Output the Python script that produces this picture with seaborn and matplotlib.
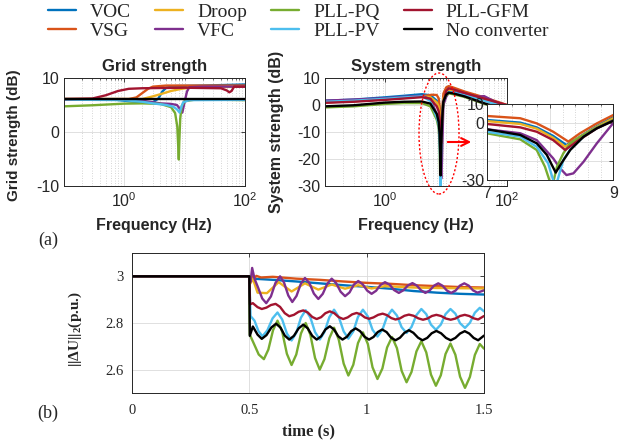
import numpy as np
import matplotlib
matplotlib.use("Agg")
import matplotlib.pyplot as plt
import seaborn as sns
from matplotlib.patches import Ellipse, FancyArrowPatch
from matplotlib.ticker import FixedLocator, NullFormatter, LogLocator, FixedFormatter, MultipleLocator

# ---------------- data ----------------
SERIES = ["VOC", "VSG", "Droop", "VFC", "PLL-PQ", "PLL-PV", "PLL-GFM", "No converter"]
COLORS = ["#0072BD", "#D95319", "#EDB120", "#7E2F8E", "#77AC30", "#4DBEEE", "#A2142F", "#000000"]

# Grid strength (dB) vs frequency (Hz)
GS_VOC_F = [0.1, 0.7, 1.2, 2, 3, 3.7, 4.3, 5, 7, 20, 100]
GS_VOC_DB = [6.1, 6.0, 5.7, 5.5, 5.5, 6.2, 7.5, 8.2, 8.5, 8.6, 8.8]
GS_VSG_F = [0.1, 1.2, 1.6, 2.0, 2.5, 3, 5, 100]
GS_VSG_DB = [6.1, 6.1, 6.4, 7.2, 8.0, 8.4, 8.6, 8.6]
GS_DROOP_F = [0.1, 2, 3, 4, 6, 9, 12, 100]
GS_DROOP_DB = [6.1, 6.1, 6.6, 7.0, 7.6, 8.0, 8.2, 8.4]
GS_VFC_F = [0.1, 1, 2, 3, 4, 6, 7.5, 8.5, 9.2, 10, 11, 12, 20, 100]
GS_VFC_DB = [6.0, 6.0, 5.8, 5.5, 5.3, 5.2, 5.0, 4.2, 3.6, 5.5, 7.5, 8.3, 8.4, 8.4]
GS_PQ_F = [0.1, 0.3, 1, 2, 4, 6, 7, 7.6, 7.9, 8.05, 8.2, 8.5, 9, 10, 15, 30, 100]
GS_PQ_DB = [4.75, 4.95, 5.25, 5.3, 5.2, 4.6, 3.5, 1.0, -3.0, -5.1, -2.0, 2.5, 4.8, 5.7, 6.0, 6.0, 5.9]
GS_PV_F = [0.1, 1, 2, 3, 5, 6.5, 7.5, 8.3, 8.8, 9.5, 12, 100]
GS_PV_DB = [6.0, 5.9, 5.6, 5.3, 5.0, 4.7, 4.2, 3.6, 4.5, 5.5, 5.9, 5.95]
GS_GFM_F = [0.1, 0.3, 0.5, 0.8, 1.2, 2, 10, 40, 50, 55, 60, 66, 100]
GS_GFM_DB = [6.1, 6.2, 6.8, 7.6, 8.0, 8.1, 8.2, 8.1, 7.7, 7.35, 7.6, 8.4, 8.4]
GS_NONE_F = [0.1, 1, 10, 100]
GS_NONE_DB = [6.1, 6.1, 6.1, 6.1]

# System strength (dB) vs frequency (Hz)
SS_VOC_F = [0.1, 0.3, 1, 2, 4, 5.5, 7, 7.53, 7.79, 8.05, 8.26, 8.47, 8.74, 9, 10, 11, 13, 20, 40, 100]
SS_VOC_DB = [1.6, 2.0, 2.85, 3.4, 4.0, 3.6, 1.6, 0.2, -2.3, -6.8, -11.6, -7.2, -1.6, 3.0, 4.8, 5.6, 5.2, 4.0, 2.0, -1.0]
SS_VSG_F = [0.1, 0.3, 1, 2, 4, 5.8, 7, 7.53, 7.79, 8.05, 8.29, 8.47, 8.74, 9, 10, 11, 13, 20, 40, 100]
SS_VSG_DB = [1.0, 1.4, 2.2, 2.8, 3.2, 3.8, 3.7, 2.5, -0.2, -4.6, -9.8, -5.5, -0.2, 4.2, 6.5, 7.0, 6.5, 5.0, 3.0, 0.0]
SS_DROOP_F = [0.1, 0.3, 1, 2, 4, 5.5, 7, 7.53, 7.79, 8.05, 8.24, 8.45, 8.74, 9, 10, 11, 13, 20, 40, 100]
SS_DROOP_DB = [1.0, 1.4, 2.1, 2.6, 3.2, 2.9, 1.0, -0.5, -3.0, -7.8, -12.5, -7.8, -2.0, 2.5, 4.8, 5.5, 5.2, 4.0, 2.2, -0.5]
SS_VFC_F = [0.1, 0.3, 1, 2, 4, 5.5, 7, 7.53, 7.79, 8.05, 8.16, 8.26, 8.37, 8.53, 8.74, 9, 10, 11, 13, 20, 30, 42, 60, 100]
SS_VFC_DB = [1.6, 2.0, 2.5, 3.0, 3.4, 2.2, -3.3, -5.4, -9.0, -18.6, -23.9, -27.4, -26.5, -20.4, -10.7, 0.0, 3.0, 4.5, 4.8, 4.0, 3.0, 3.3, 1.5, -1.0]
SS_PQ_F = [0.1, 0.3, 1, 2, 4, 5.5, 7, 7.53, 7.79, 7.92, 7.99, 8.02, 8.06, 8.11, 8.21, 8.32, 8.53, 8.74, 9, 10, 11, 13, 20, 40, 100]
SS_PQ_DB = [-0.9, -0.5, 0.4, 0.7, 0.7, -0.5, -5.4, -8.6, -14.2, -23.0, -30.0, -34.0, -30.0, -23.0, -16.0, -10.7, -6.3, -2.3, 1.6, 3.6, 4.3, 4.0, 3.0, 0.6, -2.0]
SS_PV_F = [0.1, 0.3, 1, 2, 4, 5.5, 7, 7.53, 7.79, 7.97, 8.05, 8.08, 8.12, 8.21, 8.32, 8.53, 8.74, 9, 10, 11, 13, 20, 40, 100]
SS_PV_DB = [1.2, 1.6, 2.3, 2.8, 3.2, 1.5, -4.6, -7.2, -12.5, -21.2, -30.0, -33.0, -30.0, -19.5, -13.9, -7.2, -2.8, 1.2, 4.0, 4.8, 4.6, 3.6, 1.8, -1.0]
SS_GFM_F = [0.1, 0.3, 1, 2, 4, 5.5, 7, 7.53, 7.79, 8.05, 8.24, 8.42, 8.74, 9, 10, 11, 13, 20, 40, 100]
SS_GFM_DB = [0.8, 1.2, 1.9, 2.4, 2.9, 2.3, -0.5, -2.3, -4.6, -9.0, -14.2, -9.8, -2.8, 1.2, 5.2, 6.2, 5.8, 4.5, 2.5, 0.0]
SS_NONE_F = [0.1, 0.3, 1, 2, 4, 5.5, 7, 7.53, 7.79, 7.95, 8.09, 8.18, 8.32, 8.53, 8.74, 9, 10, 11, 13, 20, 40, 100]
SS_NONE_DB = [-0.5, -0.1, 0.9, 1.2, 1.3, 0.5, -3.3, -6.3, -10.7, -16.8, -26.1, -21.2, -14.2, -7.2, -2.8, 1.2, 3.8, 4.6, 4.3, 3.2, 0.8, -2.0]

# ||dU||_2 (p.u.) vs time (s)
T_VOC = [0, 0.5, 0.51, 0.55, 0.6, 0.7, 0.8, 0.9, 1.0, 1.1, 1.2, 1.3, 1.4, 1.5]
U_VOC = [3.0, 3.0, 2.99, 2.988, 2.985, 2.978, 2.970, 2.962, 2.955, 2.947, 2.937, 2.930, 2.925, 2.922]
T_VSG = [0, 0.5, 0.505, 0.512, 0.52, 0.53, 0.55, 0.6, 0.7, 0.8, 0.9, 1.0, 1.1, 1.2, 1.3, 1.4, 1.5]
U_VSG = [3.0, 3.0, 2.985, 3.0, 2.99, 3.002, 2.995, 2.998, 2.99, 2.985, 2.978, 2.972, 2.968, 2.962, 2.958, 2.954, 2.952]
T_DROOP = [0, 0.5, 0.505, 0.515, 0.535, 0.575, 0.625, 0.68, 0.737, 0.794, 0.851, 0.908, 0.964, 1.021, 1.078, 1.2, 1.3, 1.4, 1.5]
U_DROOP = [3.0, 3.0, 2.97, 2.99, 2.93, 2.928, 2.975, 2.935, 2.970, 2.943, 2.965, 2.947, 2.962, 2.948, 2.958, 2.952, 2.950, 2.949, 2.948]
T_VFC = [0, 0.5, 0.505, 0.512, 0.522, 0.538, 0.555, 0.572, 0.592, 0.611, 0.631, 0.648, 0.666, 0.683, 0.701,
         0.719, 0.737, 0.756, 0.775, 0.794, 0.813, 0.832, 0.851, 0.870, 0.889, 0.908, 0.927, 0.945, 0.964,
         0.983, 1.002, 1.021, 1.040, 1.059, 1.078, 1.098, 1.117, 1.137, 1.156, 1.176, 1.195, 1.213, 1.232,
         1.250, 1.268, 1.287, 1.305, 1.323, 1.342, 1.360, 1.379, 1.397, 1.416, 1.435, 1.453, 1.472, 1.5]
U_VFC = [3.0, 3.0, 2.975, 3.036, 2.99, 2.95, 2.905, 2.885, 2.914, 2.971, 3.000, 2.973, 2.918, 2.890, 2.916,
         2.967, 2.993, 2.971, 2.926, 2.903, 2.925, 2.968, 2.990, 2.971, 2.934, 2.915, 2.931, 2.964, 2.980,
         2.966, 2.939, 2.925, 2.938, 2.963, 2.975, 2.964, 2.941, 2.929, 2.940, 2.961, 2.971, 2.961, 2.940,
         2.929, 2.939, 2.960, 2.970, 2.960, 2.939, 2.929, 2.939, 2.960, 2.970, 2.960, 2.940, 2.930, 2.940]
T_PQ = [0, 0.5, 0.502, 0.52, 0.54, 0.562, 0.581, 0.601, 0.620, 0.640, 0.660, 0.680, 0.700, 0.720, 0.740,
        0.760, 0.780, 0.800, 0.820, 0.841, 0.861, 0.881, 0.902, 0.922, 0.943, 0.963, 0.984, 1.005, 1.025,
        1.046, 1.067, 1.087, 1.108, 1.129, 1.149, 1.170, 1.191, 1.212, 1.233, 1.254, 1.274, 1.295, 1.316,
        1.336, 1.357, 1.378, 1.398, 1.419, 1.440, 1.461, 1.482, 1.5]
U_PQ = [3.0, 3.0, 2.75, 2.71, 2.665, 2.645, 2.686, 2.769, 2.810, 2.763, 2.668, 2.620, 2.665, 2.755, 2.800,
        2.750, 2.650, 2.600, 2.645, 2.735, 2.780, 2.729, 2.626, 2.575, 2.621, 2.714, 2.760, 2.710, 2.610,
        2.560, 2.605, 2.695, 2.740, 2.692, 2.595, 2.546, 2.590, 2.678, 2.722, 2.674, 2.579, 2.531, 2.576,
        2.667, 2.712, 2.664, 2.570, 2.522, 2.569, 2.663, 2.710, 2.69]
T_PV = [0, 0.5, 0.505, 0.522, 0.539, 0.556, 0.577, 0.599, 0.620, 0.640, 0.660, 0.680, 0.700, 0.720, 0.740,
        0.760, 0.780, 0.800, 0.820, 0.841, 0.861, 0.881, 0.902, 0.922, 0.943, 0.963, 0.984, 1.005, 1.025,
        1.046, 1.067, 1.087, 1.108, 1.129, 1.149, 1.170, 1.191, 1.212, 1.233, 1.254, 1.274, 1.295, 1.316,
        1.336, 1.357, 1.378, 1.398, 1.419, 1.440, 1.461, 1.482, 1.5]
U_PV = [3.0, 3.0, 2.83, 2.81, 2.765, 2.743, 2.769, 2.820, 2.845, 2.815, 2.755, 2.725, 2.758, 2.823, 2.855,
        2.824, 2.761, 2.729, 2.761, 2.825, 2.857, 2.826, 2.764, 2.733, 2.764, 2.826, 2.857, 2.828, 2.771,
        2.742, 2.771, 2.828, 2.857, 2.832, 2.782, 2.757, 2.783, 2.834, 2.860, 2.838, 2.793, 2.771, 2.793,
        2.838, 2.860, 2.840, 2.799, 2.779, 2.801, 2.844, 2.865, 2.85]
T_GFM = [0, 0.5, 0.503, 0.515, 0.535, 0.553, 0.573, 0.592, 0.612, 0.631, 0.651, 0.670, 0.690, 0.710, 0.730,
         0.749, 0.768, 0.787, 0.806, 0.824, 0.843, 0.862, 0.881, 0.900, 0.919, 0.938, 0.957, 0.975, 0.992,
         1.010, 1.029, 1.049, 1.068, 1.086, 1.105, 1.123, 1.142, 1.161, 1.180, 1.200, 1.220, 1.240, 1.259,
         1.278, 1.297, 1.317, 1.338, 1.358, 1.378, 1.398, 1.418, 1.437, 1.456, 1.475, 1.5]
U_GFM = [3.0, 3.0, 2.880, 2.885, 2.868, 2.860, 2.866, 2.877, 2.882, 2.869, 2.842, 2.829, 2.835, 2.848, 2.854,
         2.845, 2.826, 2.817, 2.825, 2.842, 2.850, 2.842, 2.825, 2.817, 2.824, 2.837, 2.843, 2.837, 2.824,
         2.818, 2.824, 2.835, 2.840, 2.834, 2.821, 2.815, 2.820, 2.831, 2.836, 2.831, 2.820, 2.814, 2.819,
         2.830, 2.835, 2.830, 2.819, 2.814, 2.819, 2.830, 2.835, 2.830, 2.820, 2.815, 2.83]
T_NONE = [0, 0.5, 0.502, 0.515, 0.535, 0.553, 0.573, 0.594, 0.614, 0.633, 0.651, 0.670, 0.690, 0.710, 0.730,
          0.749, 0.768, 0.787, 0.806, 0.824, 0.843, 0.861, 0.879, 0.897, 0.916, 0.934, 0.953, 0.972, 0.991,
          1.010, 1.029, 1.047, 1.066, 1.085, 1.104, 1.123, 1.142, 1.161, 1.180, 1.199, 1.219, 1.238, 1.258,
          1.277, 1.297, 1.317, 1.338, 1.358, 1.378, 1.398, 1.418, 1.437, 1.456, 1.475, 1.5]
U_NONE = [3.0, 3.0, 2.745, 2.785, 2.75, 2.732, 2.748, 2.781, 2.797, 2.780, 2.746, 2.729, 2.745, 2.777, 2.793,
          2.777, 2.745, 2.729, 2.743, 2.772, 2.786, 2.772, 2.743, 2.729, 2.741, 2.765, 2.777, 2.765, 2.741,
          2.729, 2.740, 2.761, 2.772, 2.761, 2.737, 2.726, 2.737, 2.758, 2.769, 2.758, 2.737, 2.726, 2.736,
          2.756, 2.766, 2.756, 2.736, 2.726, 2.736, 2.755, 2.765, 2.755, 2.736, 2.726, 2.746]

GS = [(GS_VOC_F, GS_VOC_DB), (GS_VSG_F, GS_VSG_DB), (GS_DROOP_F, GS_DROOP_DB), (GS_VFC_F, GS_VFC_DB),
      (GS_PQ_F, GS_PQ_DB), (GS_PV_F, GS_PV_DB), (GS_GFM_F, GS_GFM_DB), (GS_NONE_F, GS_NONE_DB)]
SS = [(SS_VOC_F, SS_VOC_DB), (SS_VSG_F, SS_VSG_DB), (SS_DROOP_F, SS_DROOP_DB), (SS_VFC_F, SS_VFC_DB),
      (SS_PQ_F, SS_PQ_DB), (SS_PV_F, SS_PV_DB), (SS_GFM_F, SS_GFM_DB), (SS_NONE_F, SS_NONE_DB)]
TS = [(T_VOC, U_VOC), (T_VSG, U_VSG), (T_DROOP, U_DROOP), (T_VFC, U_VFC),
      (T_PQ, U_PQ), (T_PV, U_PV), (T_GFM, U_GFM), (T_NONE, U_NONE)]

# ---------------- style ----------------
sns.set_style("white")
plt.rcParams.update({
    "font.family": ["Liberation Sans", "DejaVu Sans"],
    "mathtext.fontset": "custom",
    "mathtext.rm": "Liberation Serif",
    "mathtext.bf": "Liberation Serif:bold",
    "axes.edgecolor": "#262626",
    "axes.linewidth": 0.7,
    "xtick.color": "#262626",
    "ytick.color": "#262626",
})

W, H = 629, 445
fig = plt.figure(figsize=(W / 100, H / 100), dpi=100)


def rect(x0, y0, x1, y1):
    return [x0 / W, 1 - y1 / H, (x1 - x0) / W, (y1 - y0) / H]


ax1 = fig.add_axes(rect(63.5, 78, 245, 186))
ax2 = fig.add_axes(rect(324.5, 78, 507, 186))
axi = fig.add_axes(rect(486.7, 104, 613.3, 180))
ax3 = fig.add_axes(rect(132, 253, 484, 393))
axi.set_zorder(5)

LW = 1.7
SANS = "Liberation Sans"
SERIF = "Liberation Serif"


def draw(ax, x, y, c):
    sns.lineplot(x=x, y=y, ax=ax, color=c, lw=LW, estimator=None, sort=False, legend=False,
                 solid_joinstyle="round", solid_capstyle="round")


def style_common(ax):
    for s in ax.spines.values():
        s.set_visible(True)
        s.set_color("#262626")
        s.set_linewidth(0.7)
    ax.set_axisbelow(True)
    ax.tick_params(which="both", direction="in", top=True, right=True)
    ax.tick_params(which="major", length=3, width=0.6)
    ax.tick_params(which="minor", length=1.6, width=0.5)


def style_freq(ax, ylim, yticks):
    ax.set_xscale("log")
    ax.set_xlim(0.1, 100)
    ax.set_ylim(*ylim)
    ax.xaxis.set_major_locator(FixedLocator([1, 100]))
    ax.xaxis.set_minor_locator(LogLocator(base=10, subs=np.arange(1, 10) * 1.0, numticks=20))
    ax.xaxis.set_minor_formatter(NullFormatter())
    ax.yaxis.set_major_locator(FixedLocator(yticks))
    ax.yaxis.set_major_formatter(FixedFormatter([str(v) for v in yticks]))
    style_common(ax)
    ax.grid(True, which="major", color="#dadada", lw=0.6)
    ax.xaxis.grid(True, which="minor", color="#c8c8c8", ls=(0, (1, 2)), lw=0.6)
    ax.tick_params(which="major", labelsize=11.5, pad=3)
    ax.tick_params(axis="x", which="major", pad=4)
    for lab in ax.get_xticklabels() + ax.get_yticklabels():
        lab.set_family(SANS)
    ax.set_xlabel("Frequency (Hz)", fontsize=11.5, fontweight="bold", family=SANS)
    ax.xaxis.set_label_coords(0.5, -0.30)


# Top-left: grid strength
for (f, v), c in zip(GS, COLORS):
    draw(ax1, f, v, c)
style_freq(ax1, (-10, 10), [-10, 0, 10])
ax1.set_title("Grid strength", fontsize=12, fontweight="bold", family=SANS, pad=5)
ax1.set_ylabel("Grid strength (dB)", fontsize=11, fontweight="bold", family=SANS)
ax1.yaxis.set_label_coords(-0.235, 0.47)

# Top-right: system strength
for (f, v), c in zip(SS, COLORS):
    draw(ax2, f, v, c)
style_freq(ax2, (-30, 10), [-30, -20, -10, 0, 10])
ax2.set_title("System strength", fontsize=12, fontweight="bold", family=SANS, pad=5)
ax2.set_ylabel("System strength (dB)", fontsize=11.5, fontweight="bold", family=SANS)
ax2.yaxis.set_label_coords(-0.22, 0.5)

# Inset zoom 7-9 Hz
for (f, v), c in zip(SS, COLORS):
    draw(axi, f, v, c)
axi.set_facecolor("white")
axi.set_xlim(7, 9)
axi.set_ylim(-30, 10)
axi.xaxis.set_major_locator(FixedLocator([7, 8, 9]))
axi.xaxis.set_major_formatter(FixedFormatter(["7", "", "9"]))
axi.xaxis.set_minor_locator(MultipleLocator(0.2))
axi.yaxis.set_major_locator(FixedLocator([-30, -20, -10, 0, 10]))
axi.yaxis.set_major_formatter(FixedFormatter(["-30", "", "", "0", "10"]))
style_common(axi)
axi.grid(True, which="major", color="#dadada", lw=0.6)
axi.xaxis.grid(True, which="minor", color="#c8c8c8", ls=(0, (1, 2)), lw=0.6)
axi.tick_params(which="major", labelsize=11.5, pad=1.5)
axi.tick_params(axis="x", which="major", pad=4)
for lab in axi.get_xticklabels() + axi.get_yticklabels():
    lab.set_family(SANS)
axi.set_xlabel("")
axi.set_ylabel("")

# Bottom: time series
for (t, u), c in zip(TS, COLORS):
    draw(ax3, t, u, c)
ax3.set_xlim(0, 1.5)
ax3.set_ylim(2.5, 3.1)
ax3.xaxis.set_major_locator(FixedLocator([0, 0.5, 1, 1.5]))
ax3.xaxis.set_major_formatter(FixedFormatter(["0", "0.5", "1", "1.5"]))
ax3.yaxis.set_major_locator(FixedLocator([2.6, 2.8, 3.0]))
ax3.yaxis.set_major_formatter(FixedFormatter(["2.6", "2.8", "3"]))
style_common(ax3)
ax3.grid(True, which="major", color="#dadada", lw=0.6)
ax3.tick_params(which="major", labelsize=10.5)
ax3.tick_params(axis="x", pad=8)
ax3.tick_params(axis="y", pad=6)
for lab in ax3.get_xticklabels() + ax3.get_yticklabels():
    lab.set_family(SERIF)
ax3.set_xlabel("time (s)", fontsize=12, fontweight="bold", family=SERIF)
ax3.xaxis.set_label_coords(0.5, -0.215)
ax3.set_ylabel(r"||ΔU||$_\mathbf{2}$(p.u.)", fontsize=11, fontweight="bold", family=SERIF)
ax3.yaxis.set_label_coords(-0.135, 0.46)

# Panel tags
fig.text(48 / W, 1 - 240 / H, "(a)", ha="center", va="center", family=SERIF, fontsize=13)
fig.text(48 / W, 1 - 413 / H, "(b)", ha="center", va="center", family=SERIF, fontsize=13)

# Red dotted ellipse and arrow
ell = Ellipse((439 / W, 1 - 133.5 / H), 40 / W, 121 / H, transform=fig.transFigure,
              fill=False, ec="red", ls=(0, (1.5, 1.5)), lw=1.0)
fig.add_artist(ell)
arr = FancyArrowPatch((445 / W, 1 - 142 / H), (474 / W, 1 - 142 / H), transform=fig.transFigure,
                      arrowstyle="->", mutation_scale=14, color="red", lw=1.5)
fig.add_artist(arr)

# Legend
handles = ax3.get_lines()[:8]
fig.legend(handles, SERIES, ncol=4, loc="upper left", bbox_to_anchor=(48 / W, 1 - 3 / H),
           frameon=False, prop={"family": SERIF, "size": 14}, handlelength=1.45,
           handletextpad=0.7, columnspacing=1.25, labelspacing=0.1, borderpad=0, borderaxespad=0)

fig.savefig("out.png", dpi=100)
